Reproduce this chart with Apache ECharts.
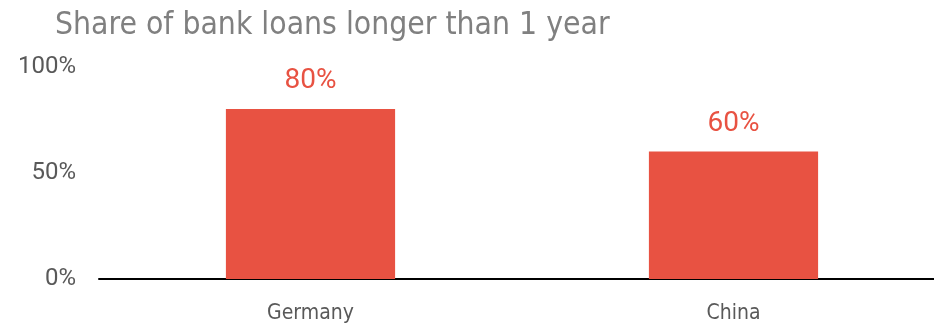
<!DOCTYPE html>
<html><head><meta charset="utf-8">
<script src="https://cdn.jsdelivr.net/npm/echarts@6/dist/echarts.min.js"></script>
<style>html,body{margin:0;padding:0;background:#fff}#c{width:934px;height:326px}</style>
</head><body><div id="c"></div>
<script>
const categories = ['Germany', 'China'];
const shareValues = [80, 60];
const yTicks = [0, 50, 100];
const chart = echarts.init(document.getElementById('c'), null, {renderer: 'canvas'});
chart.setOption({
  animation: false,
  title: {
    text: 'Share of bank loans longer than 1 year',
    left: 50, top: 5,
    textStyle: {fontFamily: 'DejaVu Sans Condensed', fontWeight: 'normal', fontSize: 31.6, color: '#808080'}
  },
  grid: {left: 99, width: 846, top: 66.5, bottom: 47, containLabel: false, outerBoundsMode: 'none'},
  xAxis: {
    type: 'category', data: categories,
    axisLine: {lineStyle: {color: '#000', width: 2}},
    axisTick: {show: false},
    axisLabel: {fontFamily: 'DejaVu Sans Condensed', fontSize: 21, color: '#595959', margin: 24}
  },
  yAxis: {
    type: 'value', min: 0, max: 100, interval: 50,
    axisLine: {show: false}, axisTick: {show: false}, splitLine: {show: false},
    axisLabel: {fontFamily: 'Roboto', fontSize: 24, color: '#595959', margin: 23,
      formatter: v => yTicks.includes(v) ? v + '%' : ''}
  },
  series: [{
    type: 'bar', data: shareValues, barWidth: '40%',
    itemStyle: {color: '#E85242'},
    label: {show: true, position: 'top', distance: 14, formatter: p => p.value + '%',
      fontFamily: 'Roboto', fontSize: 28, color: '#E85242'}
  }]
});
</script></body></html>
